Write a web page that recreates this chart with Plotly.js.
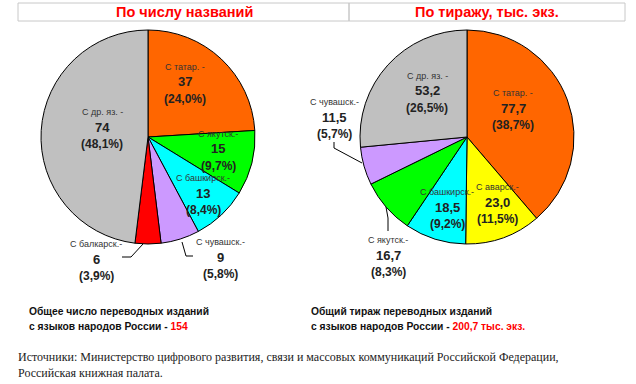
<!DOCTYPE html>
<html><head><meta charset="utf-8">
<script src="https://cdn.plot.ly/plotly-3.0.1.min.js"></script>
<style>html,body{margin:0;padding:0;background:#fff}#c{width:636px;height:384px}</style>
</head><body><div id="c"></div>
<script>
// ---- data ----
var titleLeft = "По числу названий";
var titleRight = "По тиражу, тыс. экз.";
var leftLabels = ["С татар. -", "С якутск.-", "С башкирск.-", "С чувашск.-", "С балкарск.-", "С др. яз. -"];
var leftValues = [37, 15, 13, 9, 6, 74];
var rightLabels = ["С татар. -", "С аварск.-", "С башкирск.-", "С якутск.-", "С чувашск.-", "С др. яз. -"];
var rightValues = [77.7, 23.0, 18.5, 16.7, 11.5, 53.2];
var leftTotalText = "154";
var rightTotalText = "200,7 тыс. экз.";
var noteLeft = ["Общее число переводных изданий", "с языков народов России - "];
var noteRight = ["Общий тираж переводных изданий", "с языков народов России - "];
var sources = ["Источники: Министерство цифрового развития, связи и массовых коммуникаций Российской Федерации,", "Российская книжная палата."];

// ---- styles / positions ----
var W = 636, H = 384;
var leftColors = ["#FF6600", "#00FF00", "#00FFFF", "#CC99FF", "#FF0000", "#C0C0C0"];
var rightColors = ["#FF6600", "#FFFF00", "#00FFFF", "#00FF00", "#CC99FF", "#C0C0C0"];
// label anchor (pixel) of name line for each slice
var leftPos = [[185, 67], [218, 134], [203, 178], [220, 242], [96, 244], [102, 112]];
var rightPos = [[513, 93], [497, 187], [447, 192], [388, 240], [334, 102], [427, 76]];
var leftLeaders = [[[182,242],[186,256],[193,256]], [[143,244],[131,257],[122,257]]];
var rightLeaders = [[[362,163],[334,148],[334,142]], [[386,207],[388,218],[388,231]]];

function px(x){return x/W;} function py(y){return 1 - y/H;}
function fmt(v, d){return v.toFixed(d).replace('.', ',');}

var annotations = [];
function addLabels(labels, values, pos, dec){
  var tot = values.reduce(function(a,b){return a+b;},0);
  for (var i=0;i<labels.length;i++){
    var x = pos[i][0], y = pos[i][1];
    annotations.push({x:px(x), y:py(y), xref:'paper', yref:'paper', text:labels[i], showarrow:false,
      xanchor:'center', yanchor:'middle', font:{family:'Arial, Liberation Sans', size:9, color:'#333'}});
    annotations.push({x:px(x), y:py(y+15), xref:'paper', yref:'paper', text:'<b>'+fmt(values[i],dec)+'</b>', showarrow:false,
      xanchor:'center', yanchor:'middle', font:{family:'Arial, Liberation Sans', size:13, color:'#222'}});
    annotations.push({x:px(x), y:py(y+32), xref:'paper', yref:'paper', text:'<b>('+fmt(values[i]/tot*100,1)+'%)</b>', showarrow:false,
      xanchor:'center', yanchor:'middle', font:{family:'Arial, Liberation Sans', size:12, color:'#222'}});
  }
}
addLabels(leftLabels, leftValues, leftPos, 0);
addLabels(rightLabels, rightValues, rightPos, 1);

// titles
annotations.push({x:px(184), y:py(12), xref:'paper', yref:'paper', text:'<b>'+titleLeft+'</b>', showarrow:false,
  xanchor:'center', yanchor:'middle', font:{family:'Arial, Liberation Sans', size:14.5, color:'#FF0000'}});
annotations.push({x:px(487), y:py(12), xref:'paper', yref:'paper', text:'<b>'+titleRight+'</b>', showarrow:false,
  xanchor:'center', yanchor:'middle', font:{family:'Arial, Liberation Sans', size:14.5, color:'#FF0000'}});

// notes
function note(lines, red, x){
  annotations.push({x:px(x), y:py(311), xref:'paper', yref:'paper', text:'<b>'+lines[0]+'</b>', showarrow:false,
    xanchor:'left', yanchor:'middle', font:{family:'Arial, Liberation Sans', size:10.3, color:'#111'}});
  annotations.push({x:px(x), y:py(326), xref:'paper', yref:'paper',
    text:'<b>'+lines[1]+'<span style="color:#FF0000">'+red+'</span></b>', showarrow:false,
    xanchor:'left', yanchor:'middle', font:{family:'Arial, Liberation Sans', size:10.3, color:'#111'}});
}
note(noteLeft, leftTotalText, 27);
note(noteRight, rightTotalText, 309);

annotations.push({x:px(16), y:py(357), xref:'paper', yref:'paper', text:sources[0], showarrow:false,
  xanchor:'left', yanchor:'middle', font:{family:'Liberation Serif, Times New Roman', size:12, color:'#222'}});
annotations.push({x:px(16), y:py(373), xref:'paper', yref:'paper', text:sources[1], showarrow:false,
  xanchor:'left', yanchor:'middle', font:{family:'Liberation Serif, Times New Roman', size:12, color:'#222'}});

var shapes = [
  {type:'rect', xref:'paper', yref:'paper', x0:px(18), x1:px(349), y0:py(21), y1:py(3), line:{color:'#C8C8C8', width:1}},
  {type:'rect', xref:'paper', yref:'paper', x0:px(349), x1:px(625), y0:py(21), y1:py(3), line:{color:'#C8C8C8', width:1}}
];
leftLeaders.concat(rightLeaders).forEach(function(pts){
  var d = pts.map(function(p,i){return (i?'L':'M')+px(p[0])+','+py(p[1]);}).join(' ');
  shapes.push({type:'path', xref:'paper', yref:'paper', path:d, line:{color:'#000', width:1}});
});

var traces = [
  {type:'pie', labels:leftLabels, values:leftValues, sort:false, direction:'clockwise', rotation:0,
   marker:{colors:leftColors, line:{color:'#000', width:1}}, textinfo:'none', hoverinfo:'label+value',
   domain:{x:[px(41), px(255)], y:[py(244), py(30)]}},
  {type:'pie', labels:rightLabels, values:rightValues, sort:false, direction:'clockwise', rotation:0,
   marker:{colors:rightColors, line:{color:'#000', width:1}}, textinfo:'none', hoverinfo:'label+value',
   domain:{x:[px(360), px(574)], y:[py(244), py(30)]}}
];

Plotly.newPlot('c', traces, {
  width:W, height:H, margin:{l:0,r:0,t:0,b:0}, showlegend:false,
  paper_bgcolor:'#fff', plot_bgcolor:'#fff',
  annotations:annotations, shapes:shapes
}, {displayModeBar:false, staticPlot:true});
</script></body></html>
